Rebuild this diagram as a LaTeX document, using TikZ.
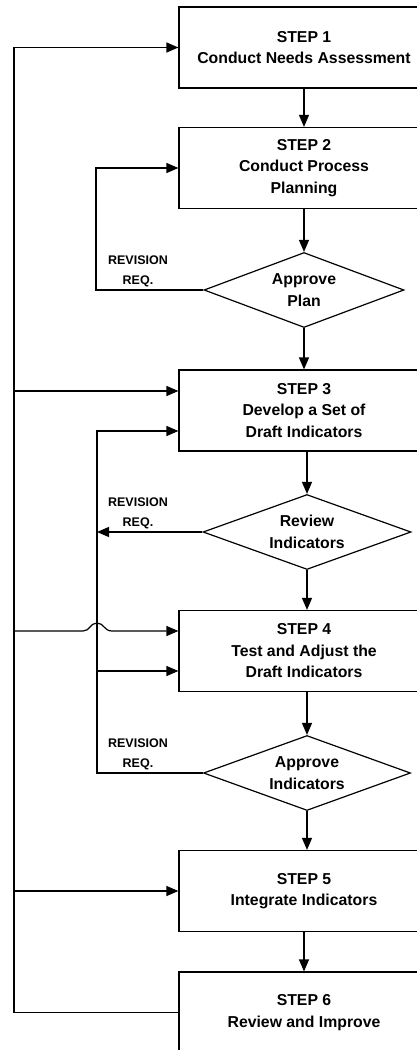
\documentclass[tikz,border=0pt]{standalone}
\usepackage{fontspec}
\setmainfont{Liberation Sans}
\usetikzlibrary{shapes.geometric,arrows.meta}
\begin{document}
\begin{tikzpicture}[x=1pt,y=-1pt,
  mainfont/.style={font=\fontsize{15.8}{21.5}\selectfont\bfseries},
  stepbox/.style={draw, line width=1.2pt, minimum width=250pt, minimum height=81pt,
    inner sep=0pt, align=center, mainfont},
  decision/.style={draw, diamond, aspect=2.7, line width=1.2pt, minimum width=#1,
    minimum height=75pt, inner sep=0pt, align=center, mainfont},
  revlabel/.style={align=center, inner sep=0pt, anchor=south,
    font=\fontsize{12.5}{20}\selectfont\bfseries},
  conn/.style={line width=1.2pt},
  arr/.style={conn, -{Triangle[length=12pt,width=10pt]}}]

\useasboundingbox (0,0) rectangle (417,1050);

% process steps
\node[stepbox] (b1) at (304,47.5) {STEP 1\\Conduct Needs Assessment};
\node[stepbox] (b2) at (304,168) {STEP 2\\Conduct Process\\Planning};
\node[stepbox] (b3) at (304,410.5) {STEP 3\\Develop a Set of\\Draft Indicators};
\node[stepbox] (b4) at (304,651) {STEP 4\\Test and Adjust the\\Draft Indicators};
\node[stepbox] (b5) at (304,891) {STEP 5\\Integrate Indicators};
\node[stepbox] (b6) at (304,1012.5) {STEP 6\\Review and Improve};

% decisions
\node[decision=200pt] (d1) at (304,290) {Approve\\Plan};
\node[decision=208pt] (d2) at (307,532) {Review\\Indicators};
\node[decision=207pt] (d3) at (307,773) {Approve\\Indicators};

% revision labels
\node[revlabel] (rv1) at (138,287) {REVISION\\REQ.};
\node[revlabel] (rv2) at (138,529) {REVISION\\REQ.};
\node[revlabel] (rv3) at (138,770) {REVISION\\REQ.};

% main flow
\draw[arr] (b1) -- (b2);
\draw[arr] (b2) -- (d1);
\draw[arr] (d1) -- (b3);
\draw[arr] (b3.south -| d2.north) -- (d2.north);
\draw[arr] (d2.south) -- (d2.south |- b4.north);
\draw[arr] (b4.south -| d3.north) -- (d3.north);
\draw[arr] (d3.south) -- (d3.south |- b5.north);
\draw[arr] (b5) -- (b6);

% outer feedback loop from step 6
\coordinate (oleft) at (14,0);
\coordinate (o3) at (14,391);
\coordinate (o4) at (14,631);
\draw[arr] (b6.west) -| (oleft |- b1.west) -- (b1.west);
\draw[arr] (o3) -- (o3 -| b3.west);
\draw[arr] (o4) -- (83,631) .. controls (90,631) and (90,623) .. (97,623)
  .. controls (104,623) and (104,631) .. (112,631) -- (o4 -| b4.west);
\draw[arr] (oleft |- b5.west) -- (b5.west);

% revision loop for the plan
\coordinate (i1) at (96,168);
\draw[arr] (d1.west) -| (i1) -- (b2.west);

% revision loop for the indicators
\coordinate (i2t) at (97,431);
\coordinate (i4) at (97,671);
\draw[arr] (d3.west) -| (i2t) -- (i2t -| b3.west);
\draw[arr] (i4) -- (i4 -| b4.west);
\draw[arr] (d2.west) -- (d2.west -| i2t);
\end{tikzpicture}
\end{document}
